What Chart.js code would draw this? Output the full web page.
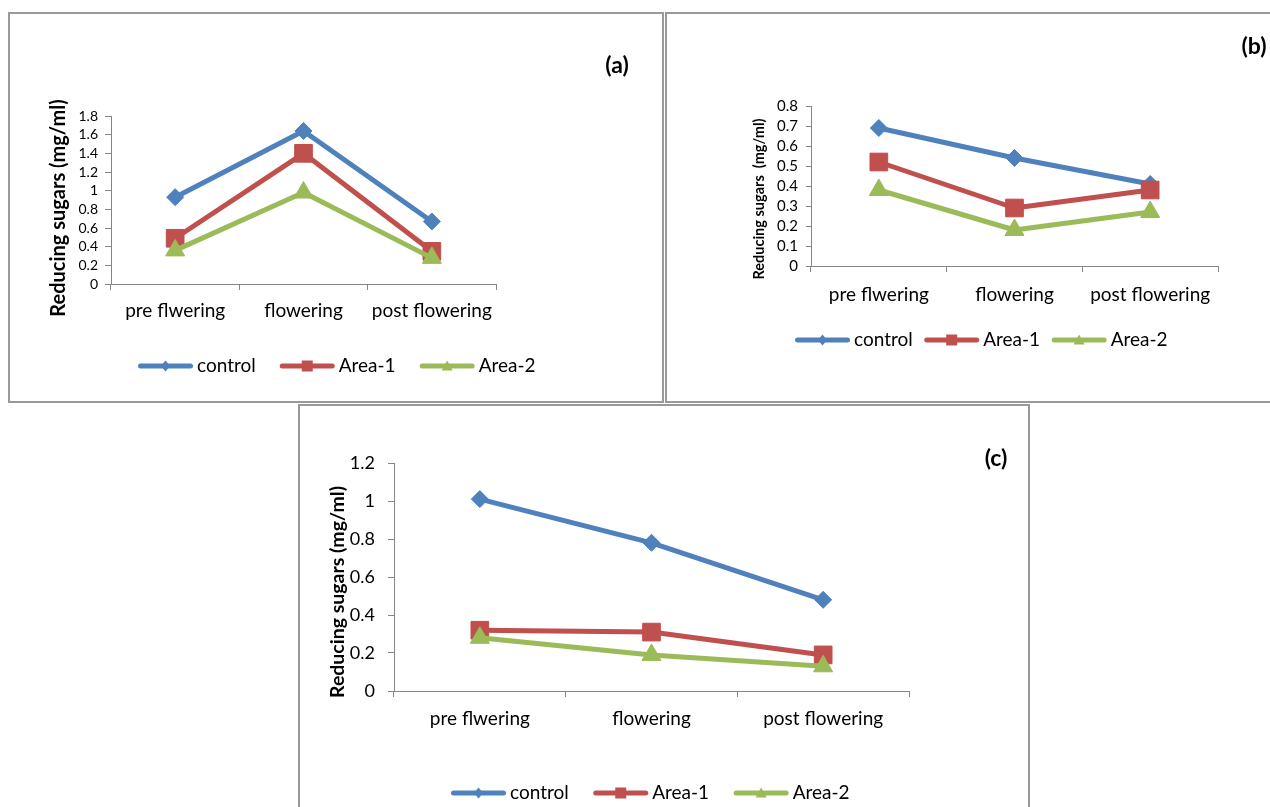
<!DOCTYPE html>
<html>
<head>
<meta charset="utf-8">
<title>Reducing sugars</title>
<script src="https://cdn.jsdelivr.net/npm/chart.js@4.4.0/dist/chart.umd.min.js"></script>
<style>
  body { margin: 0; background: #fff; width: 1270px; height: 807px; overflow: hidden; position: relative; }
  .box { position: absolute; border: 2px solid #999; box-sizing: border-box; }
  canvas { position: absolute; }
</style>
</head>
<body>
<div class="box" style="left:8px;top:12px;width:656px;height:391px"></div>
<div class="box" style="left:665px;top:12px;width:620px;height:391px"></div>
<div class="box" style="left:298px;top:404px;width:732px;height:420px"></div>
<canvas id="chartA" width="656" height="392" style="left:8px;top:12px"></canvas>
<canvas id="chartB" width="605" height="392" style="left:665px;top:12px"></canvas>
<canvas id="chartC" width="732" height="403" style="left:298px;top:404px"></canvas>
<script>
const stages = ['pre flwering', 'flowering', 'post flowering'];
const seriesNames = ['control', 'Area-1', 'Area-2'];

// (a)
const controlA = [0.93, 1.64, 0.67];
const area1A = [0.49, 1.40, 0.35];
const area2A = [0.36, 0.98, 0.28];
const ticksA = ['0', '0.2', '0.4', '0.6', '0.8', '1', '1.2', '1.4', '1.6', '1.8'];

// (b)
const controlB = [0.69, 0.54, 0.41];
const area1B = [0.52, 0.29, 0.38];
const area2B = [0.38, 0.18, 0.27];
const ticksB = ['0', '0.1', '0.2', '0.3', '0.4', '0.5', '0.6', '0.7', '0.8'];

// (c)
const controlC = [1.01, 0.78, 0.48];
const area1C = [0.32, 0.31, 0.19];
const area2C = [0.28, 0.19, 0.13];
const ticksC = ['0', '0.2', '0.4', '0.6', '0.8', '1', '1.2'];

const seriesColors = ['#4F81BD', '#C0504D', '#9BBB59'];
const markers = ['rectRot', 'rect', 'triangle'];
const markerSize = [8.5, 12.5, 11];
const axisColor = '#868686';

Chart.defaults.font.family = 'Lato';

// small marker for the legend line
function drawMark(ctx, style, x, y, color) {
  ctx.fillStyle = color;
  ctx.beginPath();
  if (style === 'rectRot') {
    ctx.moveTo(x, y - 5.5); ctx.lineTo(x + 4.5, y); ctx.lineTo(x, y + 5.5); ctx.lineTo(x - 4.5, y);
  } else if (style === 'rect') {
    ctx.rect(x - 5.5, y - 5.5, 11, 11);
  } else {
    ctx.moveTo(x, y - 5.5); ctx.lineTo(x + 5.5, y + 4.5); ctx.lineTo(x - 5.5, y + 4.5);
  }
  ctx.closePath();
  ctx.fill();
}

// panel tag, axis title and legend
const panelDeco = {
  id: 'panelDeco',
  afterDraw(chart, args, o) {
    const ctx = chart.ctx;
    ctx.save();
    ctx.fillStyle = '#000';
    ctx.textBaseline = 'middle';
    ctx.textAlign = 'center';
    ctx.font = 'bold 23px Lato';
    ctx.fillText(o.tag, o.tagX, o.tagY);

    ctx.save();
    ctx.translate(o.titleX, o.titleY);
    ctx.rotate(-Math.PI / 2);
    ctx.font = 'bold ' + o.titleSize + 'px Lato';
    ctx.fillText(o.title, 0, 0);
    ctx.restore();

    ctx.font = '19px Lato';
    ctx.textAlign = 'left';
    let x = o.legendX;
    const y = o.legendY;
    seriesNames.forEach((name, i) => {
      ctx.strokeStyle = seriesColors[i];
      ctx.lineWidth = 5;
      ctx.lineCap = 'round';
      ctx.beginPath();
      ctx.moveTo(x + 2.5, y);
      ctx.lineTo(x + 52.5, y);
      ctx.stroke();
      drawMark(ctx, markers[i], x + 27.5, y, seriesColors[i]);
      ctx.fillStyle = '#000';
      ctx.fillText(name, x + 59, y);
      x += 59 + ctx.measureText(name).width + o.legendGap;
    });
    ctx.restore();
  }
};

function makeChart(id, p) {
  return new Chart(document.getElementById(id), {
    type: 'line',
    data: {
      labels: stages,
      datasets: p.series.map((vals, i) => ({
        label: seriesNames[i],
        data: vals,
        borderColor: seriesColors[i],
        backgroundColor: seriesColors[i],
        borderWidth: 5,
        borderCapStyle: 'round',
        borderJoinStyle: 'round',
        pointStyle: markers[i],
        pointRadius: markerSize[i],
        pointBorderWidth: 1,
        tension: 0,
        order: 3 - i,
        clip: false
      }))
    },
    options: {
      responsive: false,
      animation: false,
      events: [],
      layout: { padding: p.pad },
      plugins: {
        legend: { display: false },
        tooltip: { enabled: false },
        panelDeco: p.deco
      },
      scales: {
        x: {
          offset: true,
          grid: { display: true, offset: true, drawOnChartArea: false, drawTicks: true, tickLength: 6, color: axisColor },
          border: { display: true, color: axisColor, width: 1 },
          ticks: { color: '#000', font: { size: 19 }, padding: p.xPad, maxRotation: 0, autoSkip: false },
          afterFit: s => { s.height = 40; }
        },
        y: {
          min: 0,
          max: Number(p.ticks[p.ticks.length - 1]),
          afterBuildTicks: s => { s.ticks = p.ticks.map(t => ({ value: Number(t) })); },
          grid: { display: true, drawOnChartArea: false, drawTicks: true, tickLength: p.yTick, color: axisColor },
          border: { display: true, color: axisColor, width: 1 },
          ticks: { color: '#000', font: { size: p.tickSize }, padding: p.yPad, autoSkip: false,
                   callback: (v, i) => p.ticks[i] },
          afterFit: s => { s.width = p.yWidth; }
        }
      }
    },
    plugins: [panelDeco]
  });
}

function drawAll() {
  makeChart('chartA', {
    series: [controlA, area1A, area2A],
    ticks: ticksA,
    tickSize: 14, yTick: 6, yPad: 7, xPad: 9, yWidth: 103,
    pad: { left: 0, top: 104, right: 168, bottom: 80 },
    deco: { tag: '(a)', tagX: 609, tagY: 54, title: 'Reducing sugars (mg/ml)', titleX: 51, titleY: 196, titleSize: 20,
            legendX: 130, legendY: 354, legendGap: 24 }
  });
  makeChart('chartB', {
    series: [controlB, area1B, area2B],
    ticks: ticksB,
    tickSize: 15, yTick: 5, yPad: 8, xPad: 11, yWidth: 146,
    pad: { left: 0, top: 94, right: 52, bottom: 98 },
    deco: { tag: '(b)', tagX: 589, tagY: 35, title: 'Reducing sugars  (mg/ml)', titleX: 94, titleY: 187, titleSize: 14.5,
            legendX: 130, legendY: 328, legendGap: 11.5 }
  });
  makeChart('chartC', {
    series: [controlC, area1C, area2C],
    ticks: ticksC,
    tickSize: 18, yTick: 6, yPad: 13, xPad: 10, yWidth: 96,
    pad: { left: 0, top: 59, right: 121, bottom: 76 },
    deco: { tag: '(c)', tagX: 698, tagY: 55, title: 'Reducing sugars (mg/ml)', titleX: 39.5, titleY: 188, titleSize: 19.5,
            legendX: 153, legendY: 389, legendGap: 24.5 }
  });
}

Promise.all([document.fonts.load('19px Lato'), document.fonts.load('bold 19px Lato')]).then(drawAll, drawAll);
</script>
</body>
</html>
